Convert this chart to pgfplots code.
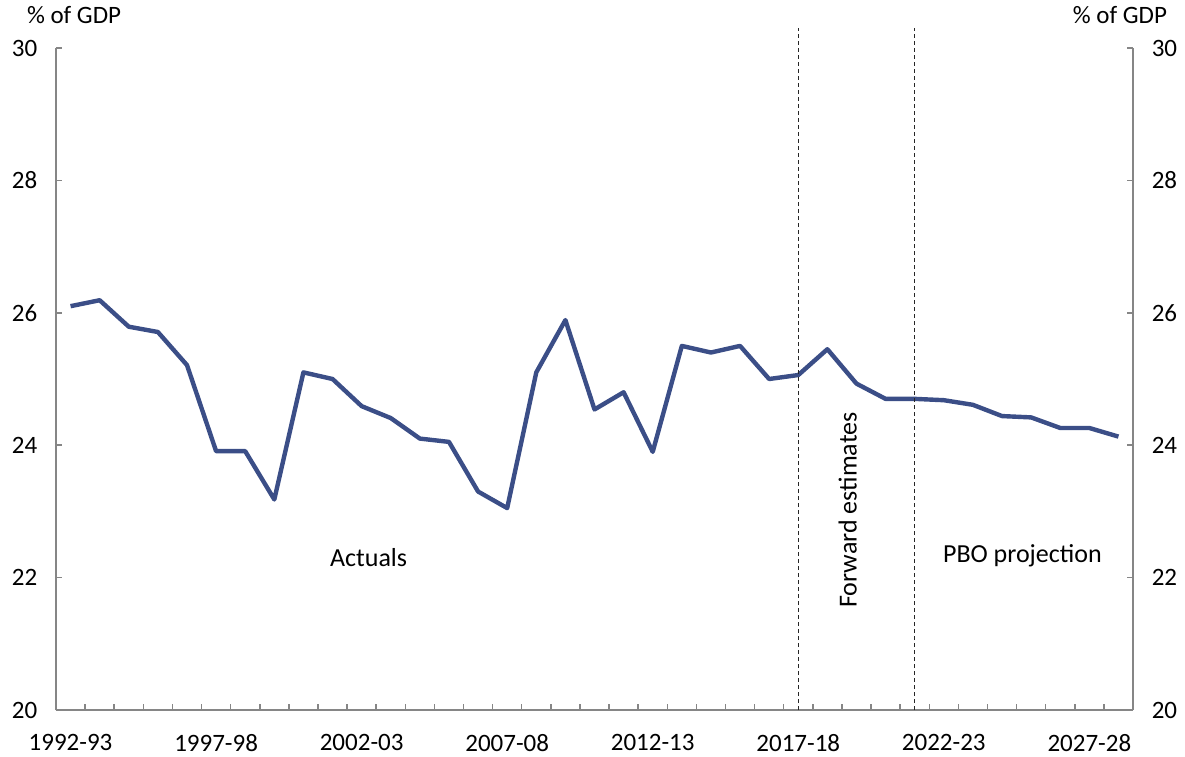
\documentclass[border=0pt]{standalone}
\usepackage{fontspec}
\setmainfont{Carlito}
\usepackage{pgfplots}
\usepackage{pgfplotstable}
\pgfplotsset{compat=1.18}
\definecolor{navy}{RGB}{59,78,135}
\definecolor{axgray}{RGB}{134,134,134}
\pgfplotstableread{
x y
0 26.10
1 26.19
2 25.79
3 25.71
4 25.21
5 23.91
6 23.91
7 23.18
8 25.10
9 25.00
10 24.59
11 24.41
12 24.10
13 24.05
14 23.30
15 23.05
16 25.10
17 25.89
18 24.54
19 24.80
20 23.90
21 25.50
22 25.40
23 25.50
24 25.00
25 25.06
26 25.45
27 24.93
28 24.70
29 24.70
30 24.68
31 24.61
32 24.44
33 24.42
34 24.26
35 24.26
36 24.13
}\datatable
\begin{document}
\fontsize{12.5}{15}\selectfont
\begin{tikzpicture}
\begin{axis}[name=ax, scale only axis, width=538.5pt, height=331pt,
  xmin=-0.5, xmax=36.5, ymin=20, ymax=30,
  axis x line*=bottom, axis y line*=left,
  axis line style={axgray, line width=0.75pt},
  tick align=inside, major tick length=3pt,
  tick style={axgray, line width=0.75pt},
  xtick={-0.5,0.5,...,36.5}, xticklabels={},
  extra x ticks={0,5,10,15,20,25,30,35},
  extra x tick labels={1992-93,1997-98,2002-03,2007-08,2012-13,2017-18,2022-23,2027-28},
  extra x tick style={tick style={draw=none}},
  xticklabel style={yshift=-8pt, font=\fontsize{12.5}{15}\selectfont},
  ytick={20,22,...,30},
  yticklabel style={xshift=-5pt, font=\fontsize{12.5}{15}\selectfont},
  /pgf/number format/assume math mode=true,
  clip=false,
]
\addplot[navy, line width=2.2pt, line join=round] table[x=x,y=y]{\datatable};
\draw[black!85, line width=0.65pt, dash pattern=on 2pt off 1.5pt] (axis cs:25,20) -- (axis cs:25,30.3);
\draw[black!85, line width=0.65pt, dash pattern=on 2pt off 1.5pt] (axis cs:29,20) -- (axis cs:29,30.3);
\node[font=\fontsize{13}{15}\selectfont] at (axis cs:10.24,22.3) {Actuals};
\node[font=\fontsize{13}{15}\selectfont] at (axis cs:32.7,22.33) {PBO projection};
\node[rotate=90, font=\fontsize{13}{15}\selectfont] at (axis cs:26.7,23.02) {Forward estimates};
\node[font=\fontsize{12.5}{14}\selectfont] at (axis cs:0.12,30.5) {\% of GDP};
\node[font=\fontsize{12.5}{14}\selectfont] at (axis cs:36.05,30.5) {\% of GDP};
\end{axis}
\begin{axis}[scale only axis, width=538.5pt, height=331pt,
  xmin=-0.5, xmax=36.5, ymin=20, ymax=30,
  axis x line=none, axis y line*=right,
  axis line style={axgray, line width=0.75pt},
  tick align=inside, major tick length=3pt,
  tick style={axgray, line width=0.75pt},
  ytick={20,22,...,30}, yticklabel pos=right,
  yticklabel style={xshift=5pt, font=\fontsize{12.5}{15}\selectfont},
  /pgf/number format/assume math mode=true,
]
\end{axis}
\pgfresetboundingbox
\path ([xshift=-28pt,yshift=-23pt]ax.south west) rectangle ([xshift=26pt,yshift=24pt]ax.north east);
\end{tikzpicture}
\end{document}
